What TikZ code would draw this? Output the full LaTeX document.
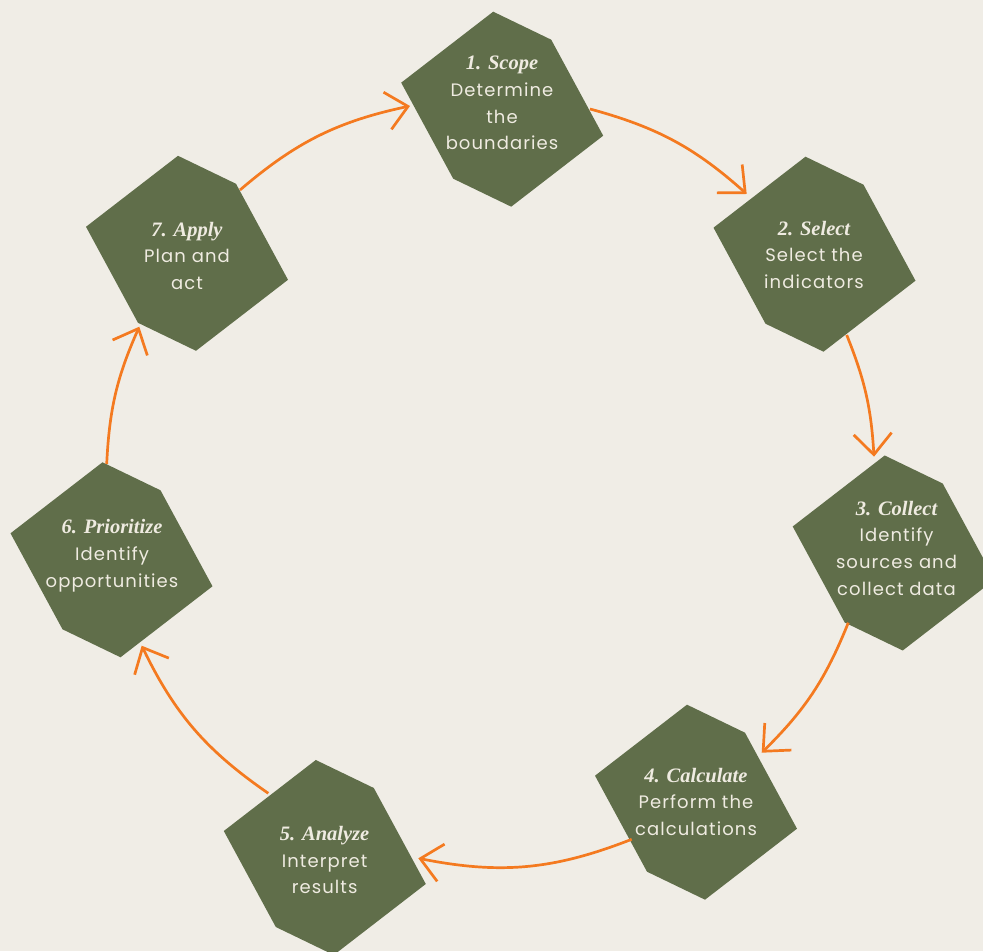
\documentclass[tikz,border=0pt]{standalone}
\usepackage{fontspec}
\setmainfont{Poppins}[LetterSpace=6]
\newfontfamily\headfont{Liberation Serif}
\usetikzlibrary{arrows.meta}
\definecolor{bgc}{HTML}{F0EDE6}
\definecolor{hexc}{HTML}{606E4A}
\definecolor{arrc}{HTML}{F47A20}
\definecolor{txtc}{HTML}{EFEBE1}
\tikzset{
  hexa/.pic={\fill[hexc] (-9,97.5) -- (49,69.5) -- (101,-26.5) -- (9,-97.5) -- (-49,-69.5) -- (-101,26.5) -- cycle;},
  label/.style={text=txtc, align=center, inner sep=0pt, font={\fontsize{18}{26.7}\selectfont}},
  flow/.style={draw=arrc, line width=2.7pt, -{Straight Barb[length=21pt,width=38pt,line width=2.7pt]}}
}
\newcommand{\hd}[1]{{\headfont\bfseries\itshape\fontsize{20.5}{26.7}\selectfont #1}}
\begin{document}
\begin{tikzpicture}[x=1pt,y=1pt]
\fill[bgc] (0,0) rectangle (983,951);
\useasboundingbox (0,0) rectangle (983,951);
\clip (0,0) rectangle (983,951);
% shape centres
\coordinate (c1) at (502.2,841.8);
\coordinate (c2) at (814.5,696.8);
\coordinate (c3) at (893.7,398);
\coordinate (c4) at (696,148.8);
\coordinate (c5) at (324.8,93.5);
\coordinate (c6) at (111.5,391.2);
\coordinate (c7) at (187,697.7);
\pic at (c1) {hexa};
\pic at (c2) {hexa};
\pic at (c3) {hexa};
\pic at (c4) {hexa};
\pic at (c5) {hexa};
\pic at (c6) {hexa};
\pic at (c7) {hexa};
% labels
\node[label] (t1) at (502,848) {\hd{1. Scope}\\Determine\\the\\boundaries};
\node[label] (t2) at (814,696.3) {\hd{2. Select}\\Select the\\indicators};
\node[label] (t3) at (896.5,402.7) {\hd{3. Collect}\\Identify\\sources and\\collect data};
\node[label] (t4) at (696,149.3) {\hd{4. Calculate}\\Perform the\\calculations};
\node[label] (t5) at (324.6,91) {\hd{5. Analyze}\\Interpret\\results};
\node[label] (t6) at (112,395.2) {\hd{6. Prioritize}\\Identify\\opportunities};
\node[label] (t7) at (187,695.2) {\hd{7. Apply}\\Plan and\\act};
% arrow end points
\coordinate (s71) at (240,761);   \coordinate (e71) at (410,845);
\coordinate (s12) at (590,842);   \coordinate (e12) at (746.7,757);
\coordinate (s23) at (846.7,616); \coordinate (e23) at (874,494.3);
\coordinate (s34) at (848.3,328.3); \coordinate (e34) at (761.7,198.3);
\coordinate (s45) at (631.7,111.7); \coordinate (e45) at (418.3,92.7);
\coordinate (s56) at (268.3,157.7); \coordinate (e56) at (141.7,305.3);
\coordinate (s67) at (106.7,487); \coordinate (e67) at (139.3,624.3);
\draw[flow] (s71) to[bend left=14.25] (e71);
\draw[flow] (s12) to[bend left=13.25] (e12);
\draw[flow] (s23) to[bend left=9.25] (e23);
\draw[flow] (s34) to[bend left=11.75] (e34);
\draw[flow] (s45) to[bend left=16.3] (e45);
\draw[flow] (s56) to[bend left=14.75] (e56);
\draw[flow] (s67) to[bend left=10.6] (e67);
\end{tikzpicture}
\end{document}
